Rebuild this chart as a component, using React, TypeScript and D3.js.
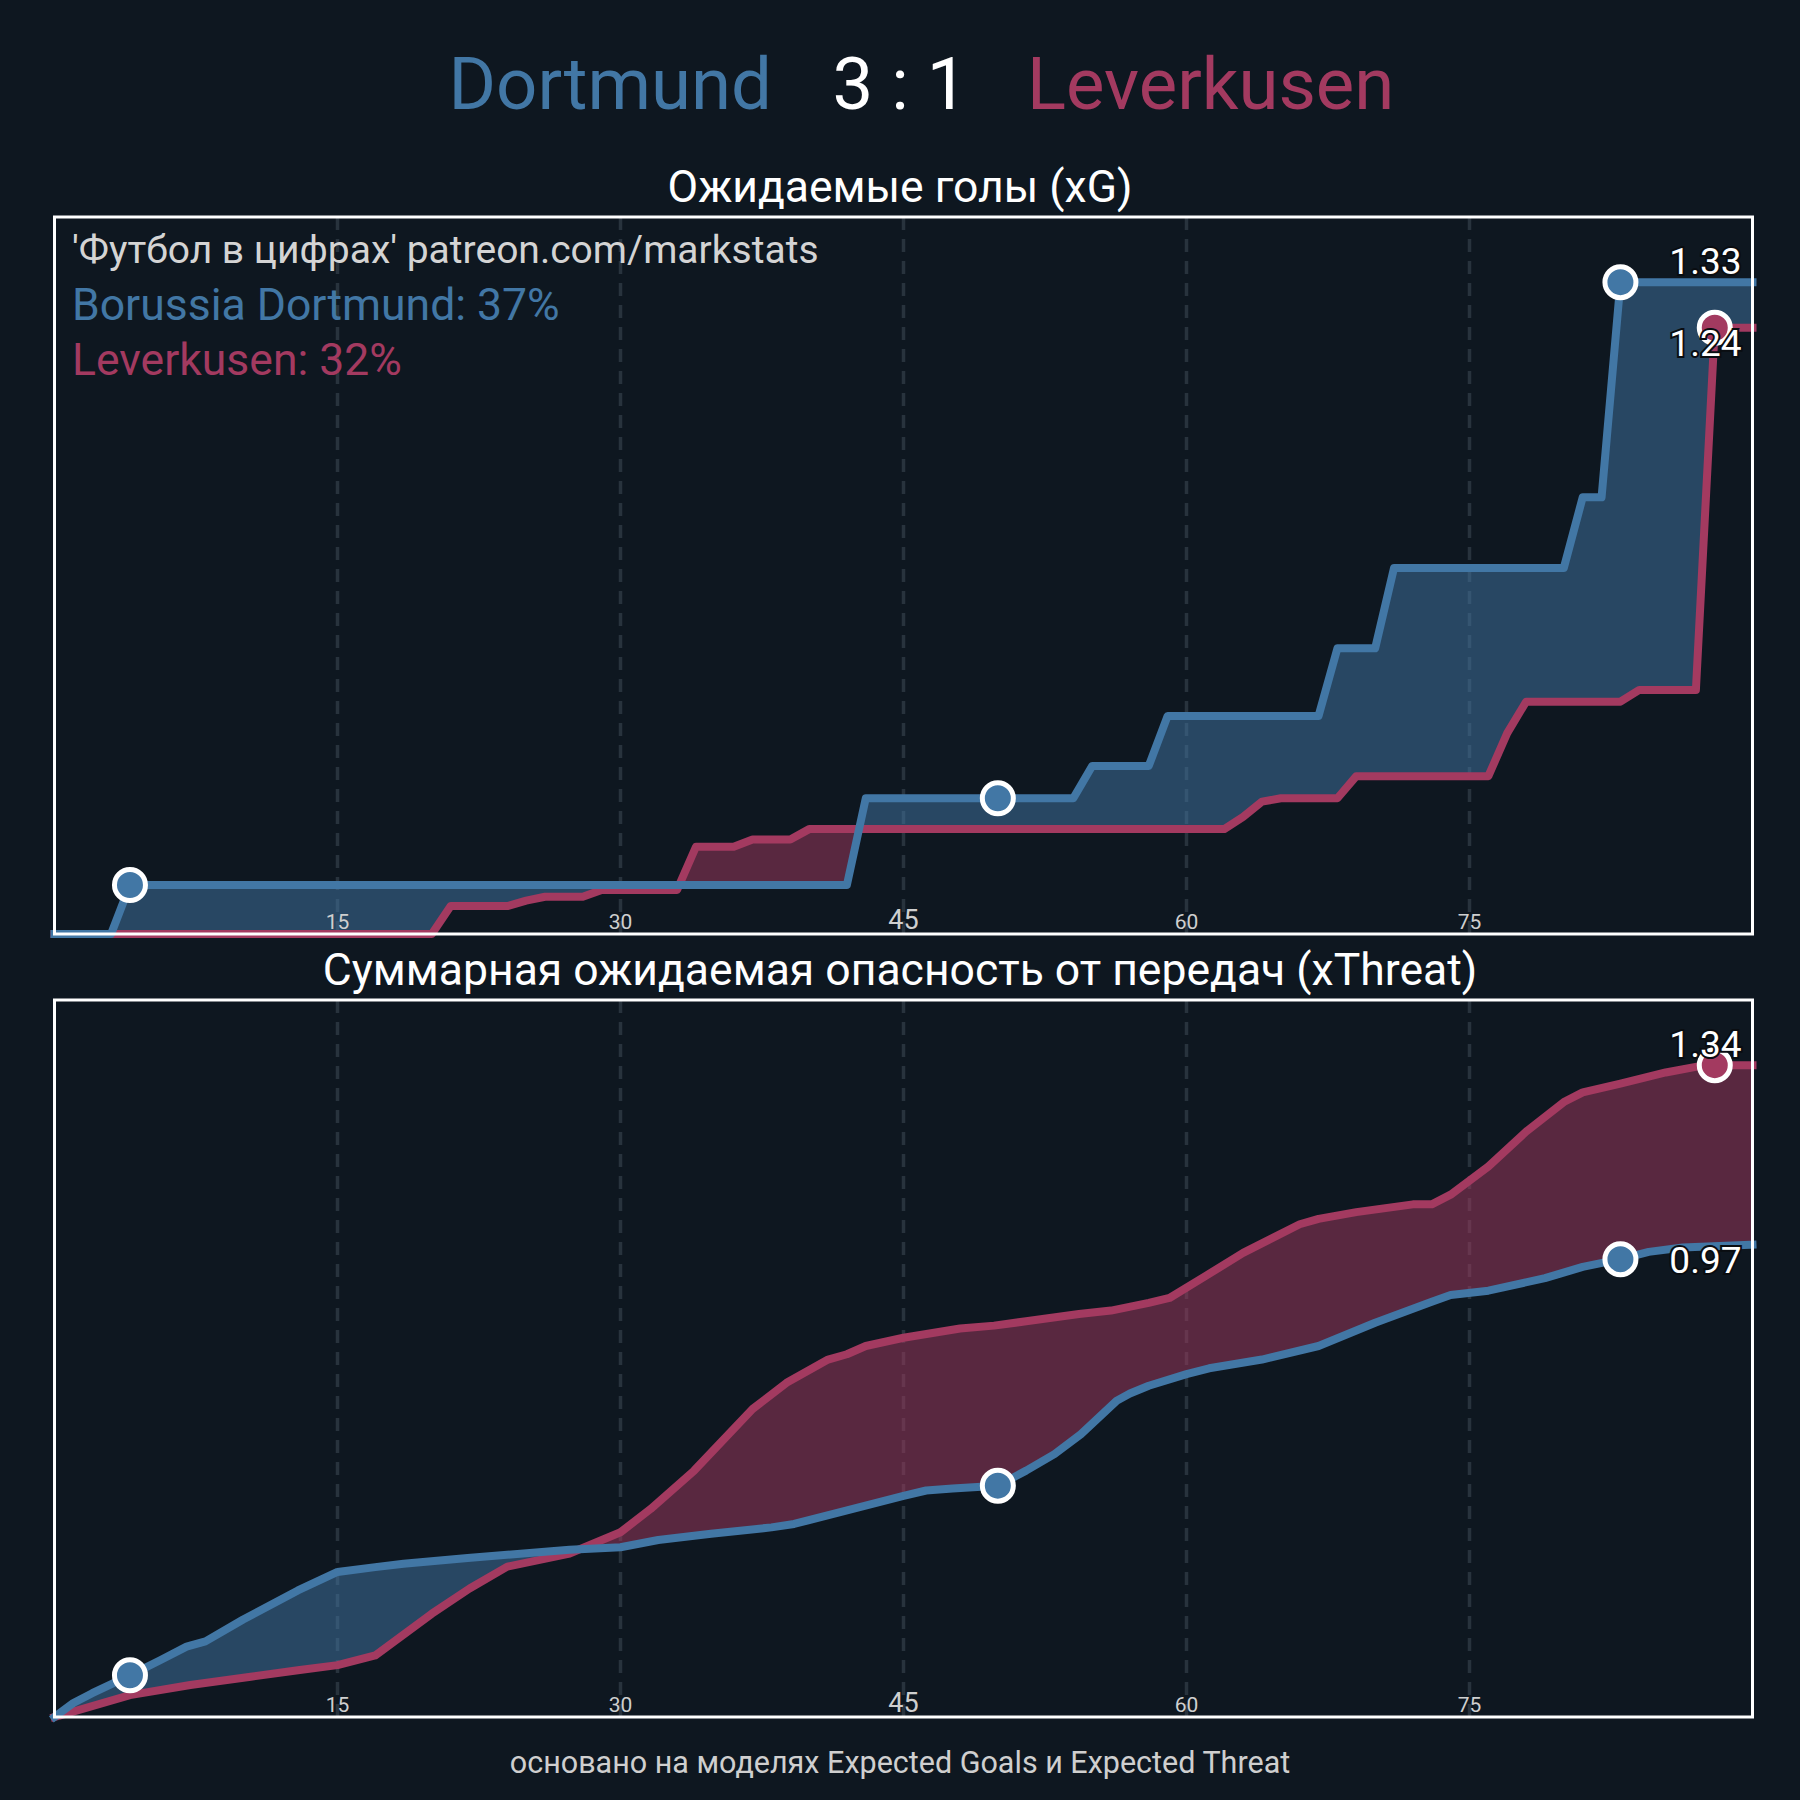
import { useEffect } from 'react';
import * as d3 from 'd3';

type Pt = [number, number];

// text
const homeTeam = 'Dortmund';
const awayTeam = 'Leverkusen';
const score = '3 : 1';
const credit = "'Футбол в цифрах' patreon.com/markstats";
const homeLegend = 'Borussia Dortmund: 37%';
const awayLegend = 'Leverkusen: 32%';
const xgTitle = 'Ожидаемые голы (xG)';
const xtTitle = 'Суммарная ожидаемая опасность от передач (xThreat)';
const footer = 'основано на моделях Expected Goals и Expected Threat';

const minuteTicks = [15, 30, 45, 60, 75];
const homeGoals = [4, 50, 83];
const awayGoals = [88];

// cumulative xG, [minute, value]
const homeXg: Pt[] = [
  [0, 0], [3, 0], [4, 0.1], [42, 0.1], [43, 0.277], [54, 0.277], [55, 0.343], [58, 0.343],
  [59, 0.445], [67, 0.445], [68, 0.583], [70, 0.583], [71, 0.747], [80, 0.747], [81, 0.891],
  [82, 0.891], [83, 1.33], [90, 1.33],
];
const awayXg: Pt[] = [
  [0, 0], [20, 0], [21, 0.057], [24, 0.057], [25, 0.068], [26, 0.076], [28, 0.076], [29, 0.09],
  [33, 0.09], [34, 0.178], [36, 0.178], [37, 0.193], [39, 0.193], [40, 0.214], [62, 0.214],
  [63, 0.239], [64, 0.27], [65, 0.277], [68, 0.277], [69, 0.322], [76, 0.322], [77, 0.41],
  [78, 0.474], [83, 0.474], [84, 0.498], [87, 0.498], [88, 1.237], [90, 1.237],
];

// cumulative xThreat
const homeXt: Pt[] = [
  [0, 0], [1, 0.029], [2, 0.049], [4, 0.086], [5.6, 0.117], [7, 0.145], [8, 0.156], [10, 0.201],
  [12.9, 0.261], [15, 0.299], [17, 0.309], [18.5, 0.316], [21.9, 0.328], [27.3, 0.345], [30, 0.35],
  [32, 0.365], [34.8, 0.378], [38, 0.391], [39.2, 0.398], [41.8, 0.424], [45, 0.456], [46.2, 0.467],
  [47.6, 0.471], [50, 0.477], [51.5, 0.508], [53, 0.542], [54.4, 0.583], [56.3, 0.652], [57, 0.667],
  [58, 0.683], [60, 0.707], [61.2, 0.719], [64, 0.737], [67, 0.765], [69, 0.797], [70, 0.813],
  [73, 0.856], [74, 0.87], [76, 0.879], [79, 0.905], [81, 0.928], [83, 0.944], [84.5, 0.959],
  [86.3, 0.968], [90, 0.974],
];
const awayXt: Pt[] = [
  [0, 0], [4, 0.045], [7.2, 0.066], [10.4, 0.083], [13, 0.097], [15, 0.107], [17, 0.127], [20, 0.213],
  [22, 0.265], [24, 0.31], [27.3, 0.337], [30, 0.381], [31.6, 0.429], [33.9, 0.508], [37, 0.635],
  [38.8, 0.689], [41, 0.737], [42, 0.748], [43, 0.765], [45, 0.782], [48, 0.801], [49.8, 0.807],
  [51.5, 0.816], [54.3, 0.831], [56, 0.838], [58, 0.854], [59.1, 0.864], [61, 0.909], [63, 0.957],
  [66, 1.016], [67, 1.027], [69, 1.041], [72, 1.057], [73, 1.057], [74, 1.077], [76, 1.135],
  [78, 1.207], [80, 1.268], [81, 1.288], [83, 1.306], [85.4, 1.329], [87.2, 1.342], [88, 1.344],
  [90, 1.344],
];

const BG = '#0e1720';
const HOME = '#4277a5';
const AWAY = '#a33a60';
const FONT = 'Roboto, sans-serif';
const X0 = 54.5;
const X1 = 1752.5;

const valueAt = (s: Pt[], m: number) => {
  const i = d3.bisector((d: Pt) => d[0]).left(s, m);
  if (i <= 0) return s[0][1];
  if (i >= s.length) return s[s.length - 1][1];
  const [m0, v0] = s[i - 1];
  const [m1, v1] = s[i];
  return v0 + ((v1 - v0) * (m - m0)) / (m1 - m0);
};

function Panel({ id, top, bottom, home, away }: { id: string; top: number; bottom: number; home: Pt[]; away: Pt[] }) {
  const x = d3.scaleLinear().domain([0, 90]).range([X0, X1]);
  const maxV = d3.max([...home, ...away], (d) => d[1]) as number;
  const y = d3.scaleLinear().domain([0, maxV * 1.1]).range([bottom, top]);

  const line = d3.line<Pt>().x((d) => x(d[0])).y((d) => y(d[1]));
  const below = d3.area<Pt>().x((d) => x(d[0])).y0(bottom).y1((d) => y(d[1]));
  const above = d3.area<Pt>().x((d) => x(d[0])).y0(top).y1((d) => y(d[1]));

  const homeEnd = home[home.length - 1][1];
  const awayEnd = away[away.length - 1][1];
  const fmt = d3.format('.2f');
  const labels = [
    { v: homeEnd, up: homeEnd >= awayEnd },
    { v: awayEnd, up: awayEnd > homeEnd },
  ];

  return (
    <g>
      <defs>
        <clipPath id={`${id}-above-away`}>
          <path d={above(away) ?? ''} />
        </clipPath>
        <clipPath id={`${id}-above-home`}>
          <path d={above(home) ?? ''} />
        </clipPath>
      </defs>

      {/* grid */}
      {minuteTicks.map((t) => (
        <line key={t} x1={x(t)} x2={x(t)} y1={top} y2={bottom} stroke="#28333d" strokeWidth={3.5} strokeDasharray="13 9" />
      ))}

      {/* fill between the two teams */}
      <path d={below(home) ?? ''} fill={HOME} fillOpacity={0.5} clipPath={`url(#${id}-above-away)`} />
      <path d={below(away) ?? ''} fill={AWAY} fillOpacity={0.5} clipPath={`url(#${id}-above-home)`} />

      {minuteTicks.map((t) => (
        <text key={t} x={x(t)} y={bottom - 5} textAnchor="middle" fill="#cfcfcf" fontSize={t === 45 ? 27 : 21} fontFamily={FONT}>
          {t}
        </text>
      ))}

      <path d={line(away) ?? ''} fill="none" stroke={AWAY} strokeWidth={8} strokeLinejoin="round" strokeLinecap="square" />
      <path d={line(home) ?? ''} fill="none" stroke={HOME} strokeWidth={8} strokeLinejoin="round" strokeLinecap="square" />

      {homeGoals.map((m) => (
        <circle key={`h${m}`} cx={x(m)} cy={y(valueAt(home, m))} r={15.5} fill={HOME} stroke="#fff" strokeWidth={5} />
      ))}
      {awayGoals.map((m) => (
        <circle key={`a${m}`} cx={x(m)} cy={y(valueAt(away, m))} r={15.5} fill={AWAY} stroke="#fff" strokeWidth={5} />
      ))}

      {labels.map((l, i) => (
        <text
          key={i}
          x={X1 - 11}
          y={l.up ? y(l.v) - 8 : y(l.v) + 28}
          textAnchor="end"
          fill="#fff"
          stroke="#0a0d11"
          strokeWidth={4}
          paintOrder="stroke"
          fontSize={37}
          fontFamily={FONT}
        >
          {fmt(l.v)}
        </text>
      ))}

      <rect x={X0} y={top} width={X1 - X0} height={bottom - top} fill="none" stroke="#fff" strokeWidth={3} />
    </g>
  );
}

export default function App() {
  useEffect(() => {
    document.body.style.margin = '0';
    document.body.style.background = BG;
  }, []);

  return (
    <svg width={1800} height={1800} style={{ display: 'block' }} fontFamily={FONT}>
      <rect width={1800} height={1800} fill={BG} />

      <text x={772} y={109} textAnchor="end" fill={HOME} fontSize={72.5}>{homeTeam}</text>
      <text x={900} y={109} textAnchor="middle" fill="#fff" fontSize={72.5}>{score}</text>
      <text x={1027} y={109} textAnchor="start" fill={AWAY} fontSize={72.5}>{awayTeam}</text>

      <text x={900} y={202} textAnchor="middle" fill="#fff" fontSize={44.5}>{xgTitle}</text>
      <Panel id="xg" top={217} bottom={934} home={homeXg} away={awayXg} />

      <text x={72} y={263} fill="#d4d4d4" fontSize={39}>{credit}</text>
      <text x={72} y={320} fill={HOME} fontSize={44.5}>{homeLegend}</text>
      <text x={72} y={375} fill={AWAY} fontSize={44.5}>{awayLegend}</text>

      <text x={900} y={985} textAnchor="middle" fill="#fff" fontSize={44.5}>{xtTitle}</text>
      <Panel id="xt" top={1000} bottom={1717} home={homeXt} away={awayXt} />

      <text x={900} y={1773} textAnchor="middle" fill="#cfcfcf" fontSize={30.5}>{footer}</text>
    </svg>
  );
}
